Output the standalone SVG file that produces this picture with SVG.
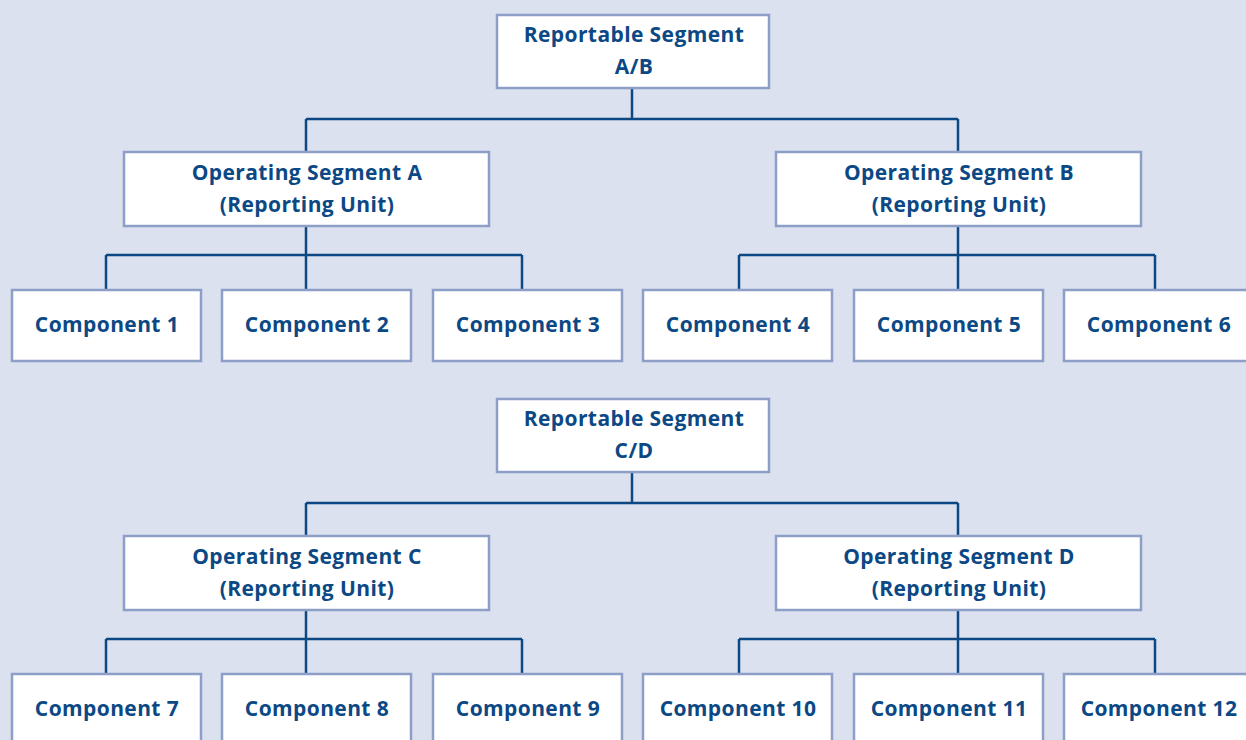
<svg xmlns="http://www.w3.org/2000/svg" width="1246" height="740" viewBox="0 0 1246 740">
<style>
.box{fill:#ffffff;stroke:#8d9fc7;stroke-width:2.5}
.t{font-family:"Open Sans","Liberation Sans",sans-serif;font-weight:700;font-size:21px;letter-spacing:0.4px;fill:#0b4884;text-anchor:middle}
.c{fill:none;stroke:#0b4884;stroke-width:2.5}
</style>
<rect x="0" y="0" width="1246" height="740" fill="#dce1ef"/>
<g id="connectors">
<path class="c" d="M632 88V119M306 119H958M306 119V152M958 119V152"/>
<path class="c" d="M306 226V290M106 255H522M106 255V290M522 255V290"/>
<path class="c" d="M958 226V290M739 255H1155M739 255V290M1155 255V290"/>
<path class="c" d="M632 472V503M306 503H958M306 503V536M958 503V536"/>
<path class="c" d="M306 610V674M106 639H522M106 639V674M522 639V674"/>
<path class="c" d="M958 610V674M739 639H1155M739 639V674M1155 639V674"/>
</g>
<g id="rs-ab"><rect class="box" x="497" y="15" width="272" height="73"/><text class="t" x="634" y="42">Reportable Segment</text><text class="t" x="634" y="74">A/B</text></g>
<g id="os-a"><rect class="box" x="124" y="152" width="365" height="74"/><text class="t" x="307" y="180">Operating Segment A</text><text class="t" x="307" y="212">(Reporting Unit)</text></g>
<g id="os-b"><rect class="box" x="776" y="152" width="365" height="74"/><text class="t" x="959" y="180">Operating Segment B</text><text class="t" x="959" y="212">(Reporting Unit)</text></g>
<g id="c1"><rect class="box" x="12" y="290" width="189" height="71"/><text class="t" x="107" y="332">Component 1</text></g>
<g id="c2"><rect class="box" x="222" y="290" width="189" height="71"/><text class="t" x="317" y="332">Component 2</text></g>
<g id="c3"><rect class="box" x="433" y="290" width="189" height="71"/><text class="t" x="528" y="332">Component 3</text></g>
<g id="c4"><rect class="box" x="643" y="290" width="189" height="71"/><text class="t" x="738" y="332">Component 4</text></g>
<g id="c5"><rect class="box" x="854" y="290" width="189" height="71"/><text class="t" x="949" y="332">Component 5</text></g>
<g id="c6"><rect class="box" x="1064" y="290" width="189" height="71"/><text class="t" x="1159" y="332">Component 6</text></g>
<g id="rs-cd"><rect class="box" x="497" y="399" width="272" height="73"/><text class="t" x="634" y="426">Reportable Segment</text><text class="t" x="634" y="458">C/D</text></g>
<g id="os-c"><rect class="box" x="124" y="536" width="365" height="74"/><text class="t" x="307" y="564">Operating Segment C</text><text class="t" x="307" y="596">(Reporting Unit)</text></g>
<g id="os-d"><rect class="box" x="776" y="536" width="365" height="74"/><text class="t" x="959" y="564">Operating Segment D</text><text class="t" x="959" y="596">(Reporting Unit)</text></g>
<g id="c7"><rect class="box" x="12" y="674" width="189" height="71"/><text class="t" x="107" y="716">Component 7</text></g>
<g id="c8"><rect class="box" x="222" y="674" width="189" height="71"/><text class="t" x="317" y="716">Component 8</text></g>
<g id="c9"><rect class="box" x="433" y="674" width="189" height="71"/><text class="t" x="528" y="716">Component 9</text></g>
<g id="c10"><rect class="box" x="643" y="674" width="189" height="71"/><text class="t" x="738" y="716">Component 10</text></g>
<g id="c11"><rect class="box" x="854" y="674" width="189" height="71"/><text class="t" x="949" y="716">Component 11</text></g>
<g id="c12"><rect class="box" x="1064" y="674" width="189" height="71"/><text class="t" x="1159" y="716">Component 12</text></g>
</svg>
